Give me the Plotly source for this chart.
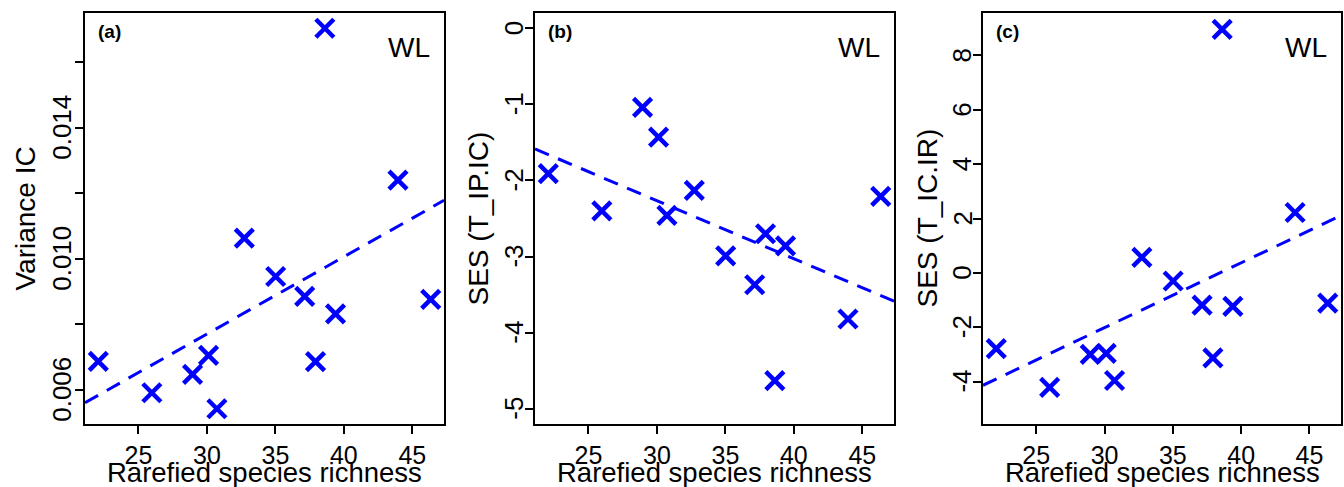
import numpy as np
import plotly.graph_objects as go

# Data
richness = [22.07, 25.98, 28.95, 30.12, 30.73, 32.73, 35.02, 37.14, 37.93, 38.61, 39.39, 43.95, 46.34]
variance_ic = [0.00687, 0.00591, 0.00647, 0.00705, 0.00542, 0.01063, 0.00946, 0.00885, 0.00686, 0.01704, 0.00832, 0.0124, 0.00876]
ses_ip_ic = [-1.91, -2.40, -1.04, -1.43, -2.46, -2.13, -2.99, -3.37, -2.70, -4.63, -2.86, -3.82, -2.21]
richness_c = [22.07, 25.98, 28.95, 30.12, 30.73, 32.73, 35.02, 37.14, 37.93, 38.61, 39.39, 43.95, 46.34]
ses_ic_ir = [-2.79, -4.21, -3.00, -2.96, -3.96, 0.57, -0.30, -1.19, -3.13, 8.96, -1.23, 2.22, -1.11]

x_ticks = [25, 30, 35, 40, 45]
a_ticks = [0.006, 0.008, 0.010, 0.012, 0.014, 0.016]
a_ticktext = ["0.006", "", "0.010", "", "0.014", ""]
b_ticks = [0, -1, -2, -3, -4, -5]
c_ticks = [-4, -2, 0, 2, 4, 6, 8]
b_ylim = [-5, 0]
c_ylim = [-5, 9]

panel_labels = ["(a)", "(b)", "(c)"]
site_label = "WL"
y_titles = ["Variance IC", "SES (T_IP.IC)", "SES (T_IC.IR)"]
x_title = "Rarefied species richness"

FONT = "Liberation Sans, Arial, Helvetica, sans-serif"
BLUE = "#0000FF"
W, H = 1344, 487


def r_range(lo, hi):
    d = hi - lo
    return [lo - 0.04 * d, hi + 0.04 * d]


xr = r_range(min(richness), max(richness))
panels = [
    (richness, variance_ic, r_range(min(variance_ic), max(variance_ic)), a_ticks, a_ticktext),
    (richness, ses_ip_ic, r_range(*b_ylim), b_ticks, [str(v) for v in b_ticks]),
    (richness_c, ses_ic_ir, r_range(*c_ylim), c_ticks, [str(v) for v in c_ticks]),
]

# pixel boxes of the plot regions
boxes_px = [(85, 444), (535, 894), (983, 1341)]
ytitle_px = [25, 478, 927]
ylab_px = [62, 514, 962]
top_px, bot_px = 13, 424
ydom = [1 - bot_px / H, 1 - top_px / H]

fig = go.Figure()
layout = dict(
    width=W, height=H, margin=dict(l=0, r=0, t=0, b=0, autoexpand=False),
    plot_bgcolor="white", paper_bgcolor="white", showlegend=False,
    font=dict(family=FONT, color="black"),
)
annotations = []
for i, (xs, ys, yr, yt, ytt) in enumerate(panels):
    n = "" if i == 0 else str(i + 1)
    xa, ya = "x" + n, "y" + n
    xs_a = np.array(xs)
    ys_a = np.array(ys)
    slope, icpt = np.polyfit(xs_a, ys_a, 1)
    lx = np.array(xr)
    fig.add_trace(go.Scatter(x=lx, y=icpt + slope * lx, mode="lines",
                             line=dict(color=BLUE, width=3, dash="15px,10px"),
                             xaxis=xa, yaxis=ya, cliponaxis=True))
    fig.add_trace(go.Scatter(x=xs, y=ys, mode="markers",
                             marker=dict(symbol="x-thin", size=18, color=BLUE,
                                         line=dict(color=BLUE, width=4.5)),
                             xaxis=xa, yaxis=ya, cliponaxis=False))
    l, r = boxes_px[i]
    common = dict(showgrid=False, zeroline=False, showline=True, mirror=True,
                  linecolor="black", linewidth=2, ticks="outside", ticklen=8,
                  tickwidth=1.5, tickcolor="black", automargin=False,
                  tickfont=dict(size=25, family=FONT, color="black"))
    layout["xaxis" + n] = dict(common, domain=[l / W, r / W], range=xr, anchor=ya,
                               tickvals=x_ticks, ticktext=[str(v) for v in x_ticks])
    layout["yaxis" + n] = dict(common, domain=ydom, range=yr, anchor=xa,
                               tickvals=yt, showticklabels=False)
    # rotated y tick labels placed right next to the ticks
    for v, t in zip(yt, ytt):
        if t:
            annotations.append(dict(text=t, xref="paper", yref=ya, x=ylab_px[i] / W, y=v,
                                    xanchor="center", yanchor="middle", textangle=-90,
                                    showarrow=False, font=dict(size=26, family=FONT, color="black")))
    # axis titles as annotations at measured pixel positions
    annotations.append(dict(text=x_title, xref="paper", yref="paper",
                            x=(l + r) / 2 / W, y=1 - 472 / H, xanchor="center", yanchor="middle",
                            showarrow=False, font=dict(size=27.5, family=FONT, color="black")))
    annotations.append(dict(text=y_titles[i], xref="paper", yref="paper",
                            x=ytitle_px[i] / W, y=1 - (top_px + bot_px) / 2 / H,
                            xanchor="center", yanchor="middle", textangle=-90,
                            showarrow=False, font=dict(size=28, family=FONT, color="black")))
    annotations.append(dict(text="<b>" + panel_labels[i] + "</b>", xref="paper", yref="paper",
                            x=(l + 11) / W, y=1 - 32 / H, xanchor="left", yanchor="middle",
                            showarrow=False, font=dict(size=19, family=FONT, color="black")))
    annotations.append(dict(text=site_label, xref="paper", yref="paper",
                            x=(r - 12) / W, y=1 - 47 / H, xanchor="right", yanchor="middle",
                            showarrow=False, font=dict(size=28, family=FONT, color="black")))

layout["annotations"] = annotations
fig.update_layout(**layout)
fig.write_html("out.html", config={"displayModeBar": False},
               post_script="document.body.style.margin='0';document.body.style.overflow='hidden';")
